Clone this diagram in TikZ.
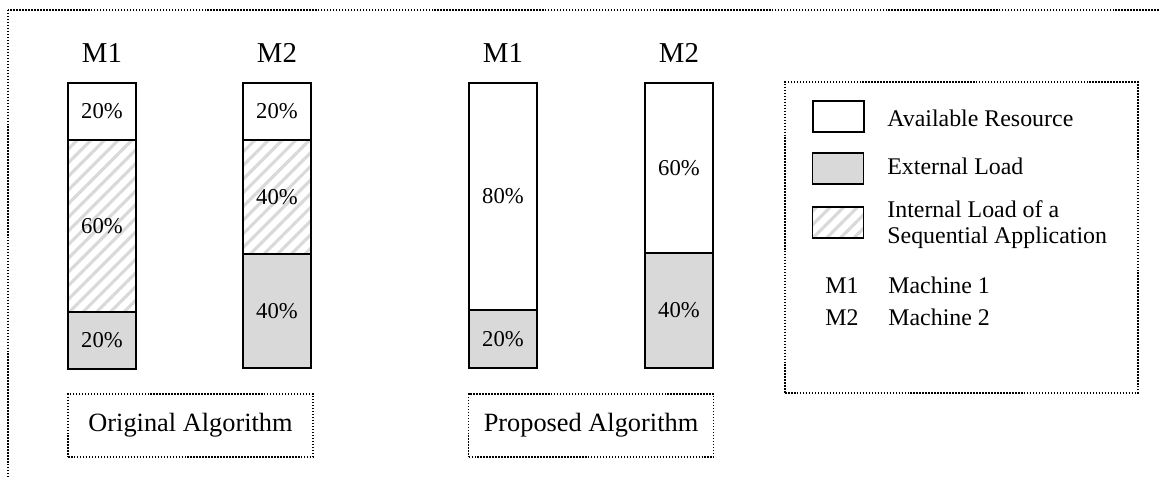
\documentclass[tikz,border=0pt]{standalone}
\usepackage{fontspec}
\setmainfont{Liberation Serif}
\usetikzlibrary{positioning,patterns.meta}

\tikzset{
  seg/.style={draw,line width=1.1pt,outer sep=0pt,inner sep=0pt,minimum width=1.36cm,
    font=\fontsize{12.9}{15}\selectfont},
  freeseg/.style={seg,fill=white},
  extseg/.style={seg,fill=gray!30},
  intseg/.style={seg,pattern={Lines[angle=45,distance=5.5pt,line width=1.8pt]},pattern color=gray!30},
  swatch/.style={draw,line width=1.1pt,outer sep=0pt,minimum width=1.02cm,minimum height=0.62cm},
  mlab/.style={font=\fontsize{16.4}{19}\selectfont,anchor=base},
  leglab/.style={font=\fontsize{13.6}{15}\selectfont,anchor=base west,inner sep=0pt,align=left},
  dotline/.style={line width=0.95pt,dash pattern=on 0.85pt off 0.85pt},
  algbox/.style={draw,dotline,minimum width=4.9cm,minimum height=1.26cm,
    font=\fontsize{15}{18}\selectfont}
}

\begin{document}
\begin{tikzpicture}[x=0.02cm,y=-0.02cm,inner sep=0pt,node distance=0pt]
\useasboundingbox (0,0) rectangle (1159,477);
\clip (0,0) rectangle (1159,477);
\draw[dotline] (8,10) rectangle (1190,510);

% original algorithm
\node[mlab] (oM1t) at (102,62) {M1};
\node[freeseg,minimum height=1.14cm,anchor=north] (oM1a) at (102,83) {20\%};
\node[intseg,minimum height=3.44cm,below=of oM1a] (oM1b) {60\%};
\node[extseg,minimum height=1.14cm,below=of oM1b] (oM1c) {20\%};
\node[mlab] (oM2t) at (277,62) {M2};
\node[freeseg,minimum height=1.14cm,anchor=north] (oM2a) at (277,83) {20\%};
\node[intseg,minimum height=2.28cm,below=of oM2a] (oM2b) {40\%};
\node[extseg,minimum height=2.28cm,below=of oM2b] (oM2c) {40\%};
\node[algbox] (orig) at (190.5,425.5) {Original Algorithm};

% proposed algorithm
\node[mlab] (pM1t) at (503,62) {M1};
\node[freeseg,minimum height=4.54cm,anchor=north] (pM1a) at (503,83) {80\%};
\node[extseg,minimum height=1.16cm,below=of pM1a] (pM1b) {20\%};
\node[mlab] (pM2t) at (679,62) {M2};
\node[freeseg,minimum height=3.40cm,anchor=north] (pM2a) at (679,83) {60\%};
\node[extseg,minimum height=2.30cm,below=of pM2a] (pM2b) {40\%};
\node[algbox] (prop) at (591,425.5) {Proposed Algorithm};

% legend
\node[draw,dotline,minimum width=7.06cm,minimum height=6.22cm] (legend) at (961.5,237.5) {};
\node[swatch,fill=white] (swfree) at (838.5,116.5) {};
\node[swatch,fill=gray!30] (swext) at (838,168.5) {};
\node[swatch,pattern={Lines[angle=45,distance=5.5pt,line width=1.8pt]},pattern color=gray!30] (swint) at (838,222.5) {};
\node[leglab] (lfree) at (887,126) {Available Resource};
\node[leglab] (lext) at (887,174) {External Load};
\node[leglab] (lint) at (887,217) {Internal Load of a};
\node[leglab] (lint2) at (887,243) {Sequential Application};
\node[leglab] (lm1) at (825,293) {M1};
\node[leglab] (lm1t) at (888,293) {Machine 1};
\node[leglab] (lm2) at (825,325) {M2};
\node[leglab] (lm2t) at (888,325) {Machine 2};
\end{tikzpicture}
\end{document}
